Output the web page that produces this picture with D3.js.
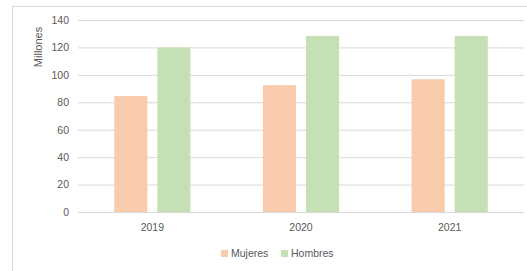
<!DOCTYPE html>
<html><head><meta charset="utf-8">
<script src="https://cdn.jsdelivr.net/npm/d3@7"></script>
<style>body{margin:0;background:#fff}svg{display:block}text{font-family:"Liberation Sans",Arial,sans-serif;fill:#595959}</style>
</head><body>
<svg id="c" width="527" height="271"></svg>
<script>
const categories = ["2019", "2020", "2021"];
const seriesNames = ["Mujeres", "Hombres"];
const mujeres = [84.5, 92.5, 96.8];
const hombres = [120, 128.4, 128.4];
const yTicks = [0, 20, 40, 60, 80, 100, 120, 140];
const colors = ["#F8CBAD", "#C5E0B4"];

(function () {
const svg = d3.select("#c");
svg.append("rect").attr("x", 12.5).attr("y", 6.5).attr("width", 530).attr("height", 280)
  .attr("fill", "#fff").attr("stroke", "#d9d9d9");

const pL = 78, pR = 524, pT = 20, pB = 212;
const y = d3.scaleLinear().domain([0, 140]).range([pB, pT]);
const x0 = d3.scaleBand().domain(categories).range([pL, pR]).paddingInner(0.488).paddingOuter(0.244);
const x1 = d3.scaleBand().domain(seriesNames).range([0, x0.bandwidth()]).paddingInner(0.233);

const yAxis = d3.axisLeft(y).tickValues(yTicks).tickSize(-(pR - pL)).tickPadding(9);
const gy = svg.append("g").attr("transform", `translate(${pL},0)`).call(yAxis);
gy.select(".domain").remove();
gy.selectAll(".tick line").attr("stroke", "#d9d9d9");
gy.selectAll(".tick text").attr("font-size", 10.5).style("fill", "#595959");

const data = categories.map((c, i) => ({cat: c, vals: [mujeres[i], hombres[i]]}));
const g = svg.append("g").selectAll("g").data(data).join("g")
  .attr("transform", d => `translate(${x0(d.cat)},0)`);
g.selectAll("rect").data(d => d.vals.map((v, j) => ({name: seriesNames[j], v, j}))).join("rect")
  .attr("x", d => x1(d.name)).attr("width", x1.bandwidth())
  .attr("y", d => y(d.v)).attr("height", d => y(0) - y(d.v))
  .attr("fill", d => colors[d.j]);

const xAxis = d3.axisBottom(x0).tickSize(0).tickPadding(12);
const gx = svg.append("g").attr("transform", `translate(0,${pB})`).call(xAxis);
gx.select(".domain").remove();
gx.selectAll(".tick text").attr("font-size", 10.5).style("fill", "#595959");

svg.append("text").attr("transform", "translate(42,47) rotate(-90)")
  .attr("text-anchor", "middle").attr("font-size", 11).text("Millones");

const legX = [221, 281];
const lg = svg.append("g").selectAll("g").data(seriesNames).join("g")
  .attr("transform", (d, i) => `translate(${legX[i]},250)`);
lg.append("rect").attr("width", 7).attr("height", 7).attr("fill", (d, i) => colors[i]);
lg.append("text").attr("x", 10).attr("y", 7).attr("font-size", 10.5).text(d => d);
})();
</script>
</body></html>
